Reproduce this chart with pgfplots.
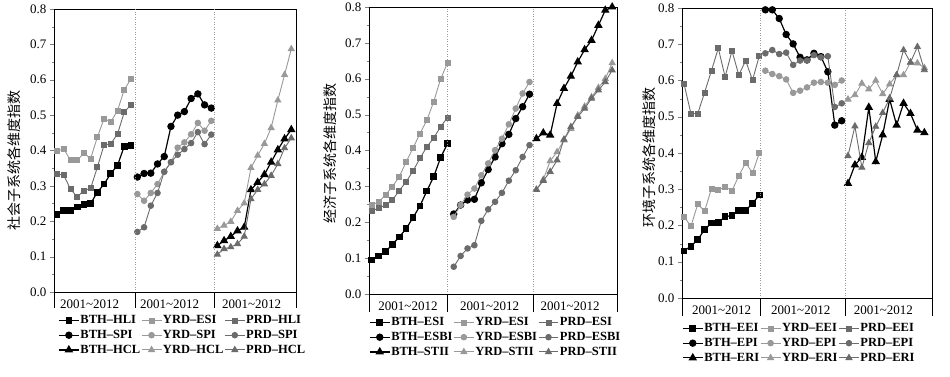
\documentclass[border=0pt]{standalone}
\usepackage{pgfplots}
\usepackage{pgfplotstable}
\pgfplotsset{compat=1.18}
\usepackage{fontspec}
\setmainfont{Liberation Serif}
\newfontfamily\cjk{Noto Sans CJK SC}
\definecolor{cY}{gray}{0.6}
\definecolor{cP}{gray}{0.42}
\tikzset{sepline/.style={dotted, gray!80, line width=0.5pt}, segline/.style={line width=0.8pt}}

\pgfplotstableread{
j BH YH PH BS YS PS BC YC PC
0 0.219 0.398 0.334 0.325 0.277 0.170 0.131 0.179 0.106
1 0.230 0.405 0.330 0.335 0.258 0.183 0.145 0.188 0.122
2 0.231 0.372 0.291 0.336 0.280 0.244 0.157 0.199 0.127
3 0.240 0.372 0.269 0.362 0.305 0.280 0.173 0.230 0.136
4 0.248 0.393 0.287 0.383 0.340 0.340 0.183 0.251 0.157
5 0.250 0.377 0.293 0.468 0.367 0.367 0.289 0.351 0.263
6 0.282 0.438 0.353 0.500 0.408 0.388 0.310 0.386 0.289
7 0.305 0.490 0.416 0.510 0.423 0.404 0.332 0.419 0.305
8 0.335 0.481 0.419 0.547 0.446 0.421 0.367 0.464 0.329
9 0.358 0.513 0.447 0.560 0.478 0.452 0.402 0.542 0.362
10 0.412 0.572 0.508 0.529 0.456 0.418 0.433 0.614 0.407
11 0.414 0.602 0.530 0.520 0.484 0.445 0.459 0.687 0.435
}\tA

\pgfplotstableread{
j BE YE PE BB YB PB BT YT PT
0 0.095 0.248 0.232 0.223 0.215 0.076 0.433 0.291 0.291
1 0.106 0.257 0.239 0.248 0.248 0.106 0.449 0.319 0.316
2 0.118 0.276 0.248 0.262 0.277 0.127 0.443 0.371 0.341
3 0.138 0.299 0.262 0.264 0.294 0.136 0.531 0.396 0.373
4 0.159 0.327 0.288 0.310 0.331 0.204 0.573 0.429 0.431
5 0.182 0.368 0.313 0.347 0.364 0.236 0.607 0.461 0.466
6 0.213 0.407 0.343 0.382 0.401 0.257 0.647 0.498 0.494
7 0.245 0.447 0.378 0.419 0.433 0.282 0.681 0.523 0.517
8 0.287 0.484 0.410 0.445 0.473 0.316 0.707 0.549 0.545
9 0.327 0.536 0.435 0.489 0.517 0.345 0.749 0.575 0.568
10 0.380 0.599 0.466 0.522 0.559 0.382 0.791 0.600 0.591
11 0.419 0.644 0.492 0.557 0.591 0.415 0.800 0.644 0.624
}\tB

\pgfplotstableread{
j BE YE PE BP YP PP BR YR PR
0 0.130 0.224 0.590 0.795 0.627 0.675 0.316 0.548 0.392
1 0.143 0.198 0.509 0.795 0.618 0.684 0.367 0.560 0.474
2 0.161 0.259 0.509 0.771 0.612 0.673 0.388 0.592 0.360
3 0.189 0.240 0.567 0.727 0.603 0.677 0.526 0.576 0.428
4 0.207 0.302 0.627 0.701 0.566 0.643 0.376 0.600 0.473
5 0.209 0.297 0.689 0.664 0.572 0.655 0.450 0.563 0.511
6 0.224 0.307 0.610 0.657 0.581 0.655 0.548 0.590 0.551
7 0.228 0.296 0.682 0.675 0.594 0.670 0.477 0.615 0.615
8 0.242 0.337 0.615 0.666 0.596 0.664 0.537 0.615 0.684
9 0.242 0.373 0.655 0.624 0.594 0.667 0.509 0.650 0.650
10 0.261 0.345 0.601 0.477 0.588 0.527 0.463 0.648 0.693
11 0.284 0.400 0.668 0.489 0.600 0.537 0.456 0.635 0.629
}\tC

\pgfplotsset{
  panel/.style={
    scale only axis, xmin=0, xmax=36, ymin=0, ymax=0.8,
    ytick={0,0.1,0.2,0.3,0.4,0.5,0.6,0.7,0.8},
    minor y tick num=1,
    /pgf/number format/assume math mode=true,
    yticklabel style={/pgf/number format/fixed, /pgf/number format/fixed zerofill, /pgf/number format/precision=1},
    tick label style={font=\fontsize{13}{13}\selectfont},
    xticklabel style={font=\fontsize{13}{13}\selectfont},
    tick align=outside, ytick pos=left, xtick pos=bottom,
    major tick length=4pt, minor tick length=2.2pt,
    xtick style={draw=none},
    clip mode=individual,
    axis line style={line width=0.8pt},
    legend columns=3,
    legend cell align=left,
    legend image code/.code={\draw[mark repeat=2,mark phase=2,##1] plot coordinates {(0cm,0cm) (0.35cm,0cm) (0.7cm,0cm)};},
    legend style={draw=none, fill=none, font=\fontsize{12.5}{12.5}\selectfont\bfseries, anchor=north west, inner sep=0pt, row sep=0pt,
      nodes={inner sep=1pt, text height=9.5pt, text depth=3.2pt},
      /tikz/every even column/.append style={column sep=0pt}},
    every axis y label/.style={rotate=90, anchor=center, font=\cjk\fontsize{14}{14}\selectfont},
  },
  sB/.style={black, line width=1.2pt, mark options={solid, fill=black, scale=1.1}},
  sY/.style={cY, line width=0.9pt, mark options={solid, fill=cY}},
  sP/.style={cP, line width=0.9pt, mark options={solid, fill=cP}},
  msq/.style={mark=square*, mark size=2.5pt},
  mci/.style={mark=*, mark size=2.8pt},
  mtr/.style={mark=triangle*, mark size=3.4pt},
}

\begin{document}
\begin{tikzpicture}
\useasboundingbox (0,0) rectangle (950pt,-376pt);
% ---------------- panel 1
\begin{axis}[panel, at={(54pt,-292pt)}, anchor=south west, width=242pt, height=283pt,
  xtick={5.3,17.2,29.4}, xticklabels={2001\textasciitilde 2012,2001\textasciitilde 2012,2001\textasciitilde 2012},
  ylabel={社会子系统各维度指数}, every axis y label/.append style={at={(axis description cs:-0.163,0.466)}},
  legend style={at={(axis description cs:0.017,-0.074)}}]
\addplot[sB,msq] table[x expr=\thisrow{j}+0.45, y=BH]{\tA};
\addplot[sY,msq] table[x expr=\thisrow{j}+0.45, y=YH]{\tA};
\addplot[sP,msq] table[x expr=\thisrow{j}+0.45, y=PH]{\tA};
\addplot[sB,mci] table[x expr=\thisrow{j}+12.4, y=BS]{\tA};
\addplot[sY,mci] table[x expr=\thisrow{j}+12.4, y=YS]{\tA};
\addplot[sP,mci] table[x expr=\thisrow{j}+12.4, y=PS]{\tA};
\addplot[sB,mtr] table[x expr=\thisrow{j}+24.3, y=BC]{\tA};
\addplot[sY,mtr] table[x expr=\thisrow{j}+24.3, y=YC]{\tA};
\addplot[sP,mtr] table[x expr=\thisrow{j}+24.3, y=PC]{\tA};
\legend{BTH--HLI,YRD--ESI,PRD--HLI,BTH--SPI,YRD--SPI,PRD--SPI,BTH--HCL,YRD--HCL,PRD--HCL}
\draw[sepline] (axis cs:12.05,0) -- (axis cs:12.05,0.8);
\draw[sepline] (axis cs:23.8,0) -- (axis cs:23.8,0.8);
\draw[segline] (axis cs:0,0) -- ++(0,-16pt);
\draw[segline] (axis cs:12.05,0) -- ++(0,-16pt);
\draw[segline] (axis cs:23.8,0) -- ++(0,-16pt);
\draw[segline] (axis cs:36,0) -- ++(0,-16pt);
\end{axis}
% ---------------- panel 2
\begin{axis}[panel, at={(369pt,-294pt)}, anchor=south west, width=248pt, height=287pt,
  xtick={5.66,17.5,29.2}, xticklabels={2001\textasciitilde 2012,2001\textasciitilde 2012,2001\textasciitilde 2012},
  ylabel={经济子系统各维度指数}, every axis y label/.append style={at={(axis description cs:-0.155,0.49)}},
  legend style={at={(axis description cs:0.0,-0.073)}}]
\addplot[sB,msq] table[x expr=\thisrow{j}+0.39, y=BE]{\tB};
\addplot[sY,msq] table[x expr=\thisrow{j}+0.39, y=YE]{\tB};
\addplot[sP,msq] table[x expr=\thisrow{j}+0.39, y=PE]{\tB};
\addplot[sB,mci] table[x expr=\thisrow{j}+12.3, y=BB]{\tB};
\addplot[sY,mci] table[x expr=\thisrow{j}+12.3, y=YB]{\tB};
\addplot[sP,mci] table[x expr=\thisrow{j}+12.3, y=PB]{\tB};
\addplot[sB,mtr] table[x expr=\thisrow{j}+24.3, y=BT]{\tB};
\addplot[sY,mtr] table[x expr=\thisrow{j}+24.3, y=YT]{\tB};
\addplot[sP,mtr] table[x expr=\thisrow{j}+24.3, y=PT]{\tB};
\legend{BTH--ESI,YRD--ESI,PRD--ESI,BTH--ESBI,YRD--ESBI,PRD--ESBI,BTH--STII,YRD--STII,PRD--STII}
\draw[sepline] (axis cs:11.4,0) -- (axis cs:11.4,0.8);
\draw[sepline] (axis cs:23.8,0) -- (axis cs:23.8,0.8);
\draw[segline] (axis cs:0,0) -- ++(0,-18pt);
\draw[segline] (axis cs:11.4,0) -- ++(0,-18pt);
\draw[segline] (axis cs:23.8,0) -- ++(0,-18pt);
\draw[segline] (axis cs:36,0) -- ++(0,-18pt);
\end{axis}
% ---------------- panel 3
\begin{axis}[panel, at={(682pt,-298pt)}, anchor=south west, width=250pt, height=290pt,
  xtick={5.7,17.1,29.0}, xticklabels={2001\textasciitilde 2012,2001\textasciitilde 2012,2001\textasciitilde 2012},
  ylabel={环境子系统各维度指数}, every axis y label/.append style={at={(axis description cs:-0.13,0.486)}},
  legend style={at={(axis description cs:0.0,-0.079)}}]
\addplot[sB,msq] table[x expr=\thisrow{j}*0.985+0.3, y=BE]{\tC};
\addplot[sY,msq] table[x expr=\thisrow{j}*0.985+0.3, y=YE]{\tC};
\addplot[sP,msq] table[x expr=\thisrow{j}*0.985+0.3, y=PE]{\tC};
\addplot[sB,mci] table[x expr=\thisrow{j}+12.0, y=BP]{\tC};
\addplot[sY,mci] table[x expr=\thisrow{j}+12.0, y=YP]{\tC};
\addplot[sP,mci] table[x expr=\thisrow{j}+12.0, y=PP]{\tC};
\addplot[sB,mtr] table[x expr=\thisrow{j}+23.9, y=BR]{\tC};
\addplot[sY,mtr] table[x expr=\thisrow{j}+23.9, y=YR]{\tC};
\addplot[sP,mtr] table[x expr=\thisrow{j}+23.9, y=PR]{\tC};
\legend{BTH--EEI,YRD--EEI,PRD--EEI,BTH--EPI,YRD--EPI,PRD--EPI,BTH--ERI,YRD--ERI,PRD--ERI}
\draw[sepline] (axis cs:11.25,0) -- (axis cs:11.25,0.8);
\draw[sepline] (axis cs:23.55,0) -- (axis cs:23.55,0.8);
\draw[segline] (axis cs:0,0) -- ++(0,-18pt);
\draw[segline] (axis cs:11.25,0) -- ++(0,-18pt);
\draw[segline] (axis cs:23.55,0) -- ++(0,-18pt);
\draw[segline] (axis cs:36,0) -- ++(0,-18pt);
\end{axis}
\end{tikzpicture}
\end{document}
